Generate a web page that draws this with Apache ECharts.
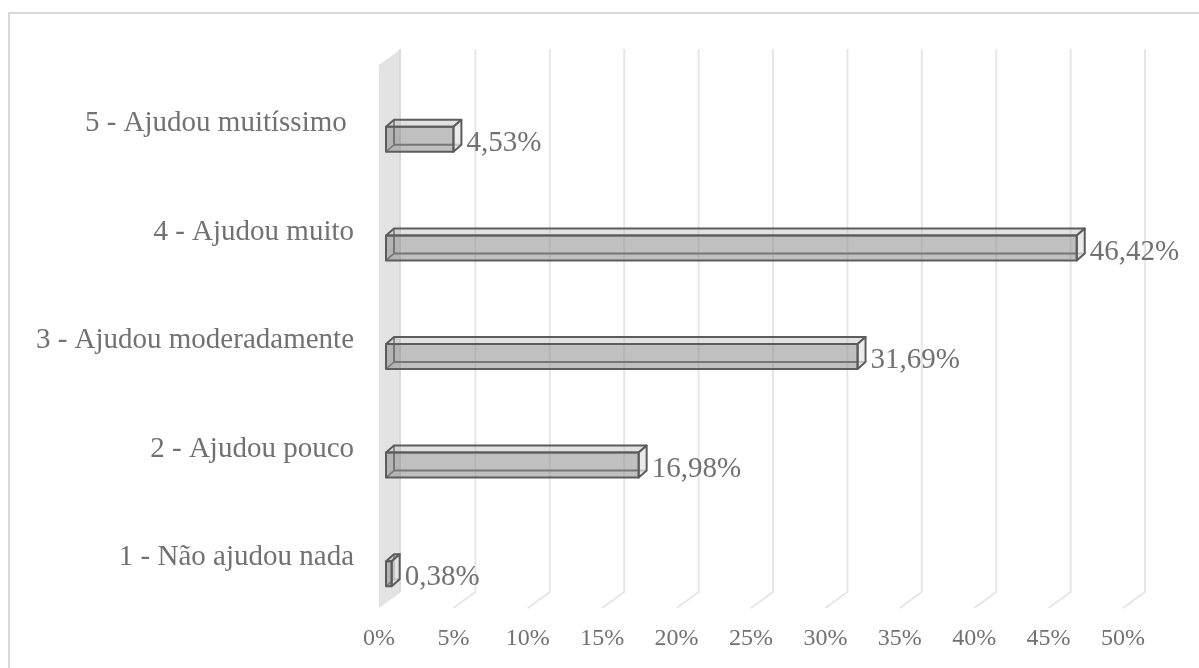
<!DOCTYPE html>
<html>
<head>
<meta charset="utf-8">
<script src="https://cdn.jsdelivr.net/npm/echarts@6/dist/echarts.min.js"></script>
<style>
  html, body { margin: 0; padding: 0; background: #ffffff; }
  #chart { width: 1199px; height: 668px; }
</style>
</head>
<body>
<div id="chart"></div>
<script>
// Categories (bottom to top) and their shares in percent
const categories = [
  '1 - Não ajudou nada',
  '2 - Ajudou pouco',
  '3 - Ajudou moderadamente',
  '4 - Ajudou muito',
  '5 - Ajudou muitíssimo '
];
const values = [0.38, 16.98, 31.69, 46.42, 4.53];
const gridTicks = [5, 10, 15, 20, 25, 30, 35, 40, 45, 50];

const FONT = "'Liberation Serif', 'Times New Roman', serif";
const TEXT = '#717171';

// oblique depth of the floor (front -> back wall)
const WALL_DX = 22, WALL_DY = -16;
// box geometry for each bar
const BAR_SHIFT_X = 7, BAR_SHIFT_Y = 20, BAR_H = 25, BAR_DX = 8, BAR_DY = -7;

function fmt(v) { return v.toFixed(2).replace('.', ',') + '%'; }

const chart = echarts.init(document.getElementById('chart'), null, { renderer: 'canvas' });

chart.setOption({
  backgroundColor: '#ffffff',
  animation: false,
  graphic: [{
    type: 'rect',
    shape: { x: 9, y: 13, width: 1400, height: 800 },
    style: { fill: 'none', stroke: '#d9d9d9', lineWidth: 2 },
    z: 0
  }],
  grid: { left: 379, right: 76, top: 65, bottom: 60, containLabel: false },
  xAxis: {
    type: 'value', min: 0, max: 50, interval: 5,
    axisLine: { show: false }, axisTick: { show: false }, splitLine: { show: false },
    axisLabel: { formatter: '{value}%', color: TEXT, fontFamily: FONT, fontSize: 24, margin: 19 }
  },
  yAxis: {
    type: 'category', data: categories,
    axisLine: { show: false }, axisTick: { show: false }, splitLine: { show: false },
    axisLabel: {
      margin: 25,
      formatter: function (v) { return '{c|' + v + '}'; },
      rich: { c: { color: TEXT, fontFamily: FONT, fontSize: 29, padding: [8, 0, 0, 0] } }
    }
  },
  series: [
    {
      // side wall and back-wall gridlines with their floor segments
      type: 'custom',
      z: 1,
      silent: true,
      data: gridTicks.map(function (t) { return [t]; }),
      encode: { x: 0 },
      renderItem: function (params, api) {
        const cs = params.coordSys;
        const top = cs.y, bottom = cs.y + cs.height;
        const x = api.coord([api.value(0), 0])[0];
        const children = [{
          type: 'polyline',
          shape: { points: [[x + WALL_DX, top + WALL_DY], [x + WALL_DX, bottom + WALL_DY], [x, bottom]] },
          style: { stroke: '#e6e6e6', lineWidth: 2, fill: 'none' }
        }];
        if (params.dataIndex === 0) {
          const x0 = api.coord([0, 0])[0];
          children.push({
            type: 'polygon',
            shape: { points: [[x0, top], [x0 + WALL_DX, top + WALL_DY], [x0 + WALL_DX, bottom + WALL_DY], [x0, bottom]] },
            style: { fill: '#e3e3e3' }
          });
          children.push({
            type: 'line',
            shape: { x1: x0 + WALL_DX - 1, y1: top + WALL_DY, x2: x0 + WALL_DX - 1, y2: bottom + WALL_DY },
            style: { stroke: '#d6d6d6', lineWidth: 1.5 }
          });
        }
        return { type: 'group', children: children };
      }
    },
    {
      // 3D boxes with value labels
      type: 'custom',
      z: 2,
      data: values.map(function (v, i) { return [v, i]; }),
      encode: { x: 0, y: 1 },
      renderItem: function (params, api) {
        const val = api.value(0), cat = api.value(1);
        const p0 = api.coord([0, cat]);
        const p1 = api.coord([val, cat]);
        const x0 = p0[0] + BAR_SHIFT_X, x1 = p1[0] + BAR_SHIFT_X;
        const cy = p0[1] + BAR_SHIFT_Y;
        const yT = cy - BAR_H / 2, yB = cy + BAR_H / 2;
        const dx = BAR_DX, dy = BAR_DY;
        const edge = '#5c5c5c';
        return {
          type: 'group',
          children: [
            // hidden back edges
            { type: 'polyline', shape: { points: [[x0 + dx, yT + dy], [x0 + dx, yB + dy], [x1 + dx, yB + dy]] },
              style: { stroke: edge, lineWidth: 2, fill: 'none' } },
            { type: 'line', shape: { x1: x0, y1: yB, x2: x0 + dx, y2: yB + dy },
              style: { stroke: edge, lineWidth: 1.5 } },
            // top face
            { type: 'polygon', shape: { points: [[x0, yT], [x1, yT], [x1 + dx, yT + dy], [x0 + dx, yT + dy]] },
              style: { fill: 'rgba(190,190,190,0.45)', stroke: edge, lineWidth: 2, lineJoin: 'round' } },
            // end face
            { type: 'polygon', shape: { points: [[x1, yT], [x1 + dx, yT + dy], [x1 + dx, yB + dy], [x1, yB]] },
              style: { fill: 'rgba(228,228,228,0.75)', stroke: edge, lineWidth: 2, lineJoin: 'round' } },
            // front face
            { type: 'rect', shape: { x: x0, y: yT, width: x1 - x0, height: BAR_H },
              style: { fill: 'rgba(140,140,140,0.55)', stroke: edge, lineWidth: 2, lineJoin: 'round' } },
            // value label
            { type: 'text', x: x1 + dx + 5, y: cy + 4,
              style: { text: fmt(val), fill: TEXT, font: '29px ' + FONT, textAlign: 'left', textVerticalAlign: 'middle' } }
          ]
        };
      }
    }
  ]
});
</script>
</body>
</html>
